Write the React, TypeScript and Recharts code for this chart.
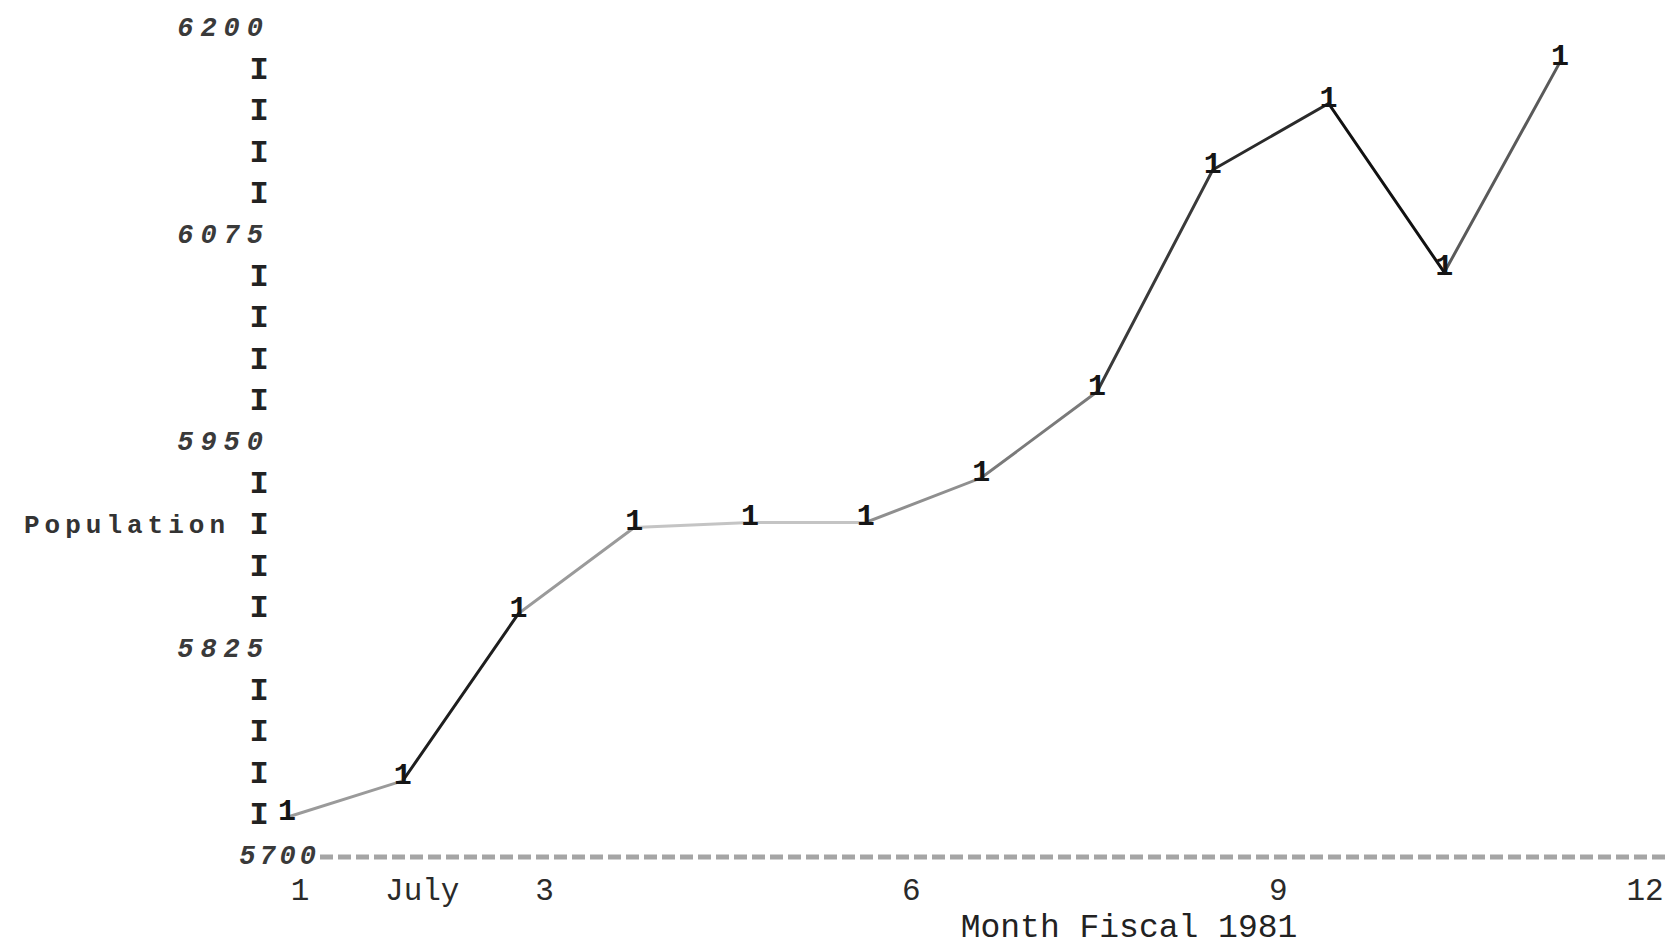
import React from "react";
import { LineChart, Line, XAxis, YAxis } from "recharts";

// ---- data ----
const months = [1, 2, 3, 4, 5, 6, 7, 8, 9, 10, 11, 12];
const population = [5724, 5746, 5847, 5899, 5902, 5902, 5929, 5981, 6115, 6155, 6053, 6180];
const xTickMonths = [1, 2, 3, 6, 9, 12];
const xTickLabels = ["1", "July", "3", "6", "9", "12"];
const yTicks = [
  5700, 5725, 5750, 5775, 5800, 5825, 5850, 5875, 5900, 5925, 5950,
  5975, 6000, 6025, 6050, 6075, 6100, 6125, 6150, 6175, 6200,
];
const yNumberTicks = [5700, 5825, 5950, 6075, 6200];
const yTitle = "Population";
const yTitleTick = 5900;
const xTitle = "Month Fiscal 1981";
const pointSymbol = "1";

// ---- styles ----
const segmentShades = ["#9a9a9a", "#1e1e1e", "#9a9a9a", "#c4c4c4", "#c4c4c4", "#8f8f8f", "#7a7a7a", "#3a3a3a", "#2a2a2a", "#111111", "#5a5a5a"];
const MONO = "'Liberation Mono', 'DejaVu Sans Mono', monospace";

const data = months.map((m, i) => ({ month: m, population: population[i] }));

const YTick = (props: any) => {
  const { x, y, payload } = props;
  const v = payload.value;
  if (yNumberTicks.includes(v)) {
    const isOrigin = v === yTicks[0];
    return (
      <text
        x={isOrigin ? x : x - 50}
        y={y}
        textAnchor="end"
        dominantBaseline="central"
        fontFamily={MONO}
        fontSize={27}
        fontStyle="italic"
        fontWeight="bold"
        letterSpacing={isOrigin ? 4 : 7}
        fill="#3a3a3a"
      >
        {v}
      </text>
    );
  }
  return (
    <g>
      <text
        x={x - 61}
        y={y}
        textAnchor="middle"
        dominantBaseline="central"
        fontFamily={MONO}
        fontSize={32}
        fontWeight="bold"
        fill="#222"
      >
        I
      </text>
      {v === yTitleTick && (
        <text
          x={x - 90}
          y={y}
          textAnchor="end"
          dominantBaseline="central"
          fontFamily={MONO}
          fontSize={26}
          fontWeight="bold"
          letterSpacing={5}
          fill="#333"
        >
          {yTitle}
        </text>
      )}
    </g>
  );
};

const XTick = (props: any) => {
  const { x, y, payload } = props;
  const idx = xTickMonths.indexOf(payload.value);
  return (
    <text
      x={x}
      y={y + 43}
      textAnchor="middle"
      fontFamily={MONO}
      fontSize={31}
      fill="#2a2a2a"
    >
      {idx >= 0 ? xTickLabels[idx] : ""}
    </text>
  );
};

const PointMark = (props: any) => {
  const { cx, cy, index } = props;
  return (
    <text
      key={`pm-${index}`}
      x={cx}
      y={cy + 3}
      textAnchor="middle"
      fontFamily={MONO}
      fontSize={30}
      fontWeight="bold"
      fill="#151515"
    >
      {pointSymbol}
    </text>
  );
};

export default function App() {
  const n = segmentShades.length;
  return (
    <div style={{ position: "absolute", left: 0, top: 0, width: 1670, height: 947, background: "#fff" }}>
      <LineChart
        width={1670}
        height={947}
        data={data}
        margin={{ top: 29, right: 0, bottom: 0, left: 0 }}
      >
        <defs>
          <linearGradient id="segGrad" x1="0" y1="0" x2="1" y2="0">
            {segmentShades.map((c, i) => [
              <stop key={`a${i}`} offset={i / n} stopColor={c} />,
              <stop key={`b${i}`} offset={(i + 1) / n} stopColor={c} />,
            ])}
          </linearGradient>
        </defs>
        <XAxis
          xAxisId="m"
          dataKey="month"
          type="number"
          domain={[1, 12]}
          padding={{ left: -33, right: 110 }}
          hide
        />
        <XAxis
          xAxisId="lbl"
          dataKey="month"
          type="number"
          domain={[1, 12]}
          padding={{ left: -20, right: 25 }}
          ticks={xTickMonths}
          interval={0}
          tick={<XTick />}
          tickLine={false}
          tickSize={0}
          tickMargin={0}
          height={90}
          axisLine={{ stroke: "#a5a5a5", strokeWidth: 5, strokeDasharray: "13 5" }}
          label={{
            value: xTitle,
            position: "insideBottom",
            offset: 10,
            dx: 134,
            fontFamily: MONO,
            fontSize: 33,
            fill: "#222",
          }}
        />
        <YAxis
          dataKey="population"
          type="number"
          domain={[5700, 6200]}
          ticks={yTicks}
          interval={0}
          width={320}
          axisLine={false}
          tickLine={false}
          tickSize={0}
          tickMargin={0}
          tick={<YTick />}
        />
        <Line
          xAxisId="m"
          type="linear"
          dataKey="population"
          stroke="url(#segGrad)"
          strokeWidth={3}
          dot={<PointMark />}
          activeDot={false}
          isAnimationActive={false}
        />
      </LineChart>
    </div>
  );
}
